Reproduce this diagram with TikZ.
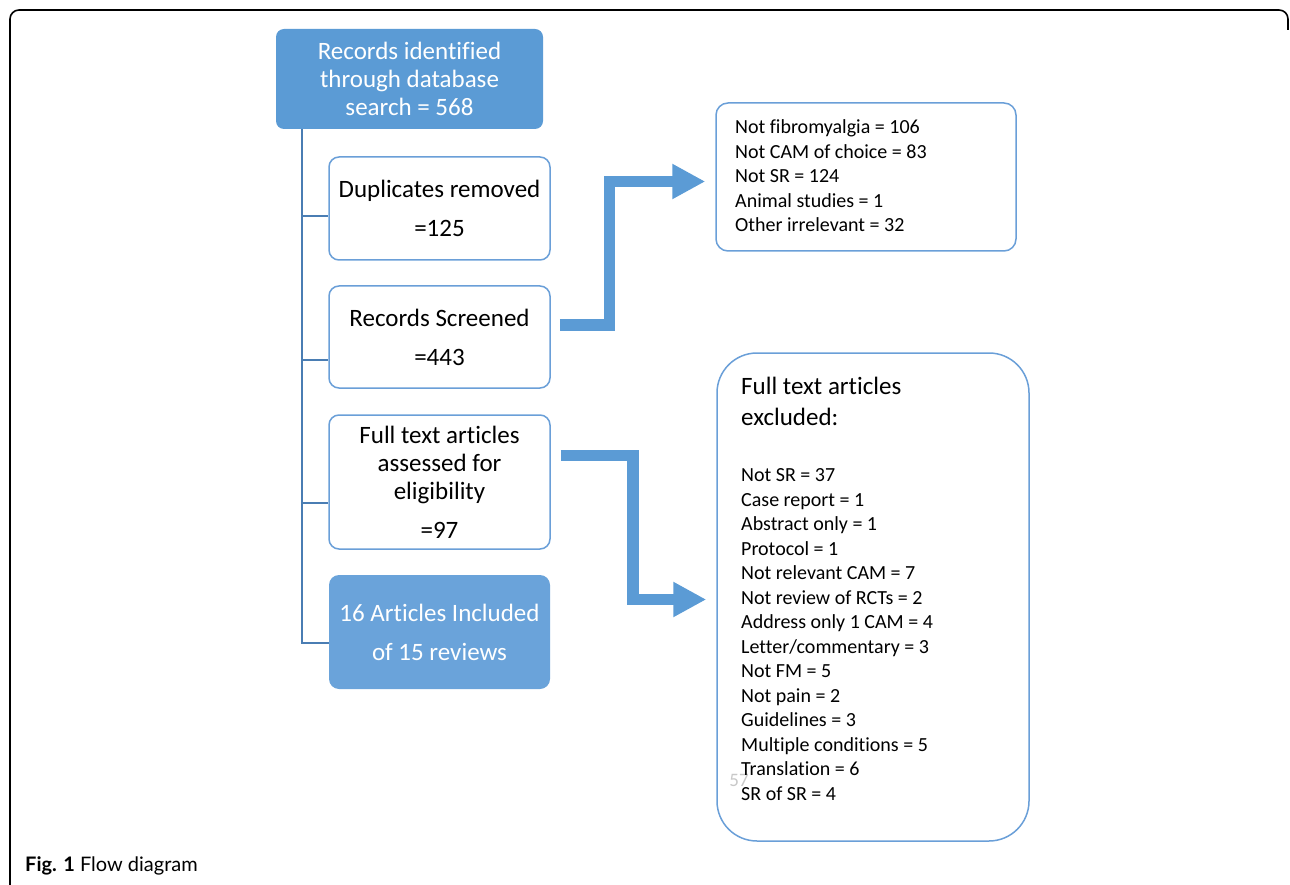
\documentclass[tikz,border=0pt]{standalone}
\usepackage{fontspec}
\setmainfont{Carlito}[Ligatures=NoCommon]
\newfontfamily\capfont{Lato}
\usetikzlibrary{arrows.meta,calc}
\definecolor{blueA}{HTML}{5B9BD5}
\definecolor{blueB}{HTML}{6AA3DA}
\definecolor{treeC}{HTML}{4A7DB3}
\definecolor{edgeC}{HTML}{6A9FD8}
\definecolor{pgC}{HTML}{C8C8C8}
\begin{document}
\begin{tikzpicture}[x=1pt,y=-1pt,
  bigfont/.style={font=\fontsize{25}{28}\selectfont},
  smallfont/.style={font=\fontsize{20}{24.5}\selectfont},
  filledbox/.style={rectangle, rounded corners=8pt, fill=blueA, text=white, bigfont, align=center, inner sep=0pt},
  plainbox/.style={rectangle, rounded corners=10pt, draw=edgeC, line width=1.5pt, fill=white, bigfont, align=center, inner sep=0pt},
  tree/.style={draw=treeC, line width=2pt},
  bigarrow/.style={draw=blueA, line width=11.5pt, line join=miter, -{Triangle[length=33pt,width=33pt]}}
]
\useasboundingbox (0,0) rectangle (1290,885);
% outer frame
\draw[line width=1.6pt, rounded corners=9pt] (10,900) -- (10,10) -- (1288,10) -- (1288,30);

% left column
\node[filledbox, minimum width=267pt, minimum height=100pt] (top) at (409.5,79)
  {Records identified\\through database\\search = 568};
\node[plainbox, minimum width=221pt, minimum height=103pt] (dup) at (439.5,208.5)
  {Duplicates removed\\[11pt]=125};
\node[plainbox, minimum width=221pt, minimum height=102pt] (scr) at (439.5,337)
  {Records Screened\\[11pt]=443};
\node[plainbox, minimum width=221pt, minimum height=134pt] (ft) at (439.5,482)
  {Full text articles\\assessed for\\eligibility\\[11pt]=97};
\node[filledbox, fill=blueB, rounded corners=10pt, minimum width=221pt, minimum height=114pt] (incl) at (439.5,632)
  {16 Articles Included\\[11pt]of 15 reviews};

% tree connectors
\draw[tree] ($(top.south west)+(26,0)$) |- ($(incl.west)+(0,11)$);
\draw[tree] ($(dup.west)+(-27,7.5)$) -- ($(dup.west)+(0,7.5)$);
\draw[tree] ($(scr.west)+(-27,23)$) -- ($(scr.west)+(0,23)$);
\draw[tree] ($(ft.west)+(-27,21)$) -- ($(ft.west)+(0,21)$);

% right column
\node[plainbox, rounded corners=12pt, minimum width=300pt, minimum height=148pt] (ex1) at (866,177) {};
\node[smallfont, align=left, anchor=west, inner sep=0pt] (ex1txt) at (735,176)
  {Not fibromyalgia = 106\\Not CAM of choice = 83\\Not SR = 124\\Animal studies = 1\\Other irrelevant = 32};
\node[plainbox, rounded corners=40pt, minimum width=312pt, minimum height=488pt] (ex2) at (873,597) {};
\node[align=left, anchor=west, inner sep=0pt, font=\fontsize{25}{31}\selectfont] (hdr) at (741,401.5)
  {Full text articles\\excluded:};
\node[font=\fontsize{19}{21}\selectfont, text=pgC, inner sep=0pt] (pg) at (739,780) {57};
\node[smallfont, align=left, anchor=west, inner sep=0pt] (lst) at (741,634.5)
  {Not SR = 37\\Case report = 1\\Abstract only = 1\\Protocol = 1\\Not relevant CAM = 7\\Not review of RCTs = 2\\Address only 1 CAM = 4\\Letter/commentary = 3\\Not FM = 5\\Not pain = 2\\Guidelines = 3\\Multiple conditions = 5\\Translation = 6\\SR of SR = 4};

% arrows
\draw[bigarrow] ($(scr.east)+(9,-12)$) -| ($(ex1.west)+(-106,4.5)$) -- ($(ex1.west)+(-10,4.5)$);
\draw[bigarrow] ($(ft.east)+(10,-26.5)$) -| ($(ex2.west)+(-83.5,2.5)$) -- ($(ex2.west)+(-10,2.5)$);

% caption
\node[anchor=west, inner sep=0pt, font=\capfont\fontsize{20}{24}\selectfont] (cap) at (25,866)
  {\textbf{Fig. 1} Flow diagram};
\end{tikzpicture}
\end{document}
